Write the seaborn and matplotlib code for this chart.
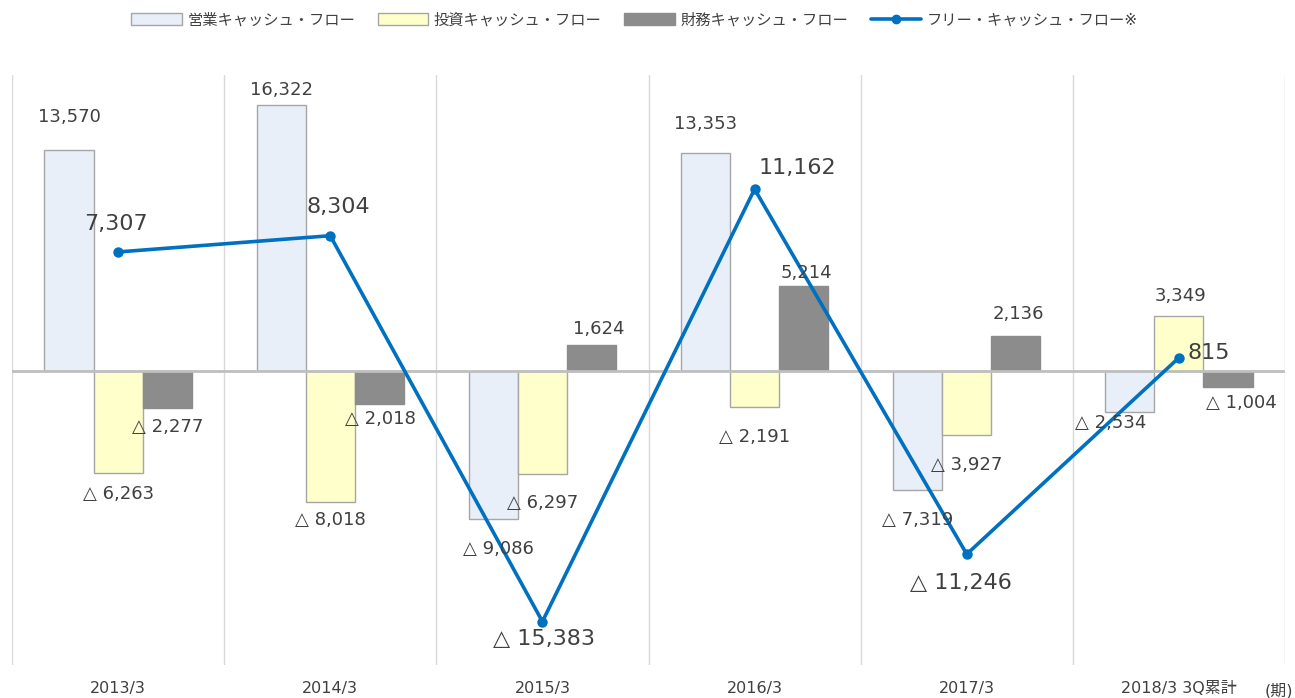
import numpy as np
import pandas as pd
import matplotlib
matplotlib.use("Agg")
import matplotlib.pyplot as plt
from matplotlib.patches import Patch
from matplotlib.lines import Line2D
import seaborn as sns

# ---------------- data ----------------
categories = ["2013/3", "2014/3", "2015/3", "2016/3", "2017/3", "2018/3 3Q累計"]
series_names = ["営業キャッシュ・フロー", "投資キャッシュ・フロー", "財務キャッシュ・フロー"]
free_name = "フリー・キャッシュ・フロー※"
operating = [13570, 16322, -9086, 13353, -7319, -2534]
investing = [-6263, -8018, -6297, -2191, -3927, 3349]
financing = [-2277, -2018, 1624, 5214, 2136, -1004]
free_cf = [7307, 8304, -15383, 11162, -11246, 815]

# label offsets (pixels) relative to bar end / point
op_off = [(0, 33), (0, 15), (5, -30), (0, 29), (0, -30), (-19, -11)]
inv_off = [(0, -21), (0, -18), (0, -29), (0, -30), (0, -30), (2, 20)]
fin_off = [(1, -19), (1, -15), (7, 16), (3, 13), (3, 22), (13, -16)]
free_off = [(-2, 28), (8, 29), (2, -17), (43, 21), (-6, -29), (30, 5)]

# ---------------- style ----------------
sns.set_theme(style="white")
plt.rcParams["font.family"] = ["DejaVu Sans", "Noto Sans CJK JP"]

fill_colors = ["#E9EFF9", "#FFFFCC", "#8C8C8C"]
edge_colors = ["#A6A6A6", "#A6A6A6", "#8C8C8C"]
line_color = "#0070C0"
text_color = "#404040"

df = pd.DataFrame({
    "cat": categories * 3,
    "series": sum([[s] * len(categories) for s in series_names], []),
    "value": operating + investing + financing,
})

fig = plt.figure(figsize=(12.95, 6.98), dpi=100)
ax = fig.add_axes([12 / 1295, 1 - 665 / 698, (1285 - 12) / 1295, (665 - 75) / 698])

sns.barplot(data=df, x="cat", y="value", hue="series", order=categories,
            hue_order=series_names, palette=fill_colors, width=0.694,
            saturation=1, legend=False, ax=ax, zorder=2)
for cont, ec in zip(ax.containers, edge_colors):
    for bar in cont:
        bar.set_edgecolor(ec)
        bar.set_linewidth(1.0)

x_pos = np.arange(len(categories))
sns.lineplot(x=x_pos, y=free_cf, color=line_color, linewidth=2.6, marker="o",
             markersize=7.5, markeredgewidth=0, ax=ax, zorder=4)

ax.set_xlim(-0.5, len(categories) - 0.5)
ax.set_ylim(-18050, 18170)

# separators and zero line
for b in np.arange(-0.5, len(categories), 1.0):
    ax.axvline(b, color="#D9D9D9", lw=1, zorder=1)
ax.axhline(0, color="#BFBFBF", lw=2, zorder=3)

for s in ax.spines.values():
    s.set_visible(False)
ax.set_yticks([])
ax.set_xlabel("")
ax.set_ylabel("")
ax.tick_params(axis="x", length=0, pad=11.5, labelsize=11.5, labelcolor=text_color)
ax.set_xticks(x_pos)
ax.set_xticklabels(categories)


def fmt(v):
    return f"{v:,}" if v >= 0 else f"△ {abs(v):,}"


# bar labels
for cont, vals, offs in zip(ax.containers, [operating, investing, financing],
                            [op_off, inv_off, fin_off]):
    for bar, v, (dx, dy) in zip(cont, vals, offs):
        xc = bar.get_x() + bar.get_width() / 2
        ax.annotate(fmt(v), (xc, v), xytext=(dx, dy), textcoords="offset pixels",
                    ha="center", va="center", fontsize=13, color=text_color, zorder=5)

for x, v, (dx, dy) in zip(x_pos, free_cf, free_off):
    ax.annotate(fmt(v), (x, v), xytext=(dx, dy), textcoords="offset pixels",
                ha="center", va="center", fontsize=16, color=text_color, zorder=6)

fig.text(1293 / 1295, 1 - 691 / 698, "(期)", ha="right", va="center",
         fontsize=11.5, color=text_color)

handles = [Patch(facecolor=fc, edgecolor=ec, linewidth=1) for fc, ec in zip(fill_colors, edge_colors)]
handles.append(Line2D([0], [0], color=line_color, lw=2.6, marker="o", markersize=6))
leg = fig.legend(handles, series_names + [free_name], loc="center",
                 bbox_to_anchor=(0.49, 1 - 20 / 698), ncol=4, frameon=False,
                 fontsize=11, handlelength=3.3, handleheight=0.85,
                 handletextpad=0.35, columnspacing=1.5)
for t in leg.get_texts():
    t.set_color(text_color)

fig.savefig("out.png", dpi=100)
